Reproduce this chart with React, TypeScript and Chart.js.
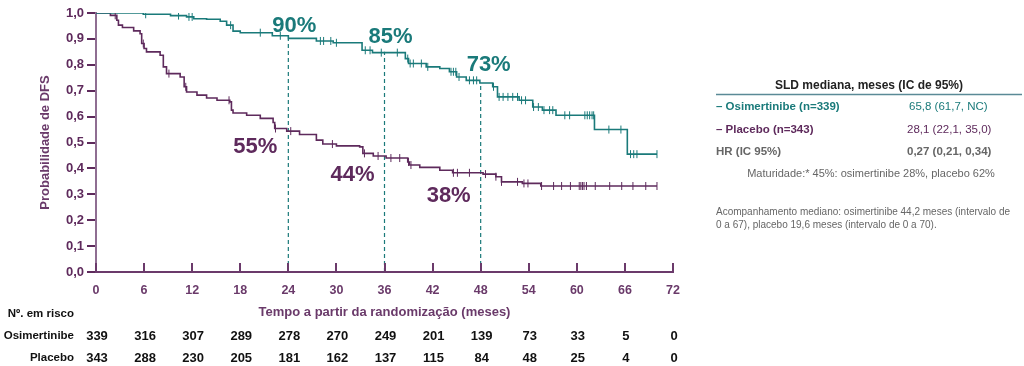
import React, { useEffect, useRef } from 'react';
import { Chart, registerables } from 'chart.js';

Chart.register(...registerables);

// ---------- data ----------
const osiTimes = [0, 5.9, 9.3, 11.3, 12.2, 13.8, 15.5, 16.3, 17.1, 18.0, 22.0, 24.0, 27.5, 29.6, 33.2, 34.5, 38.6, 39.0, 41.2, 42.9, 44.1, 45.0, 46.2, 47.9, 49.5, 50.1, 52.8, 54.5, 55.7, 57.4, 62.2, 66.3, 70];
const osiSurv = [1.0, 0.995, 0.99, 0.985, 0.978, 0.976, 0.968, 0.953, 0.93, 0.924, 0.912, 0.902, 0.892, 0.885, 0.856, 0.847, 0.824, 0.805, 0.792, 0.786, 0.773, 0.753, 0.74, 0.73, 0.715, 0.676, 0.663, 0.637, 0.625, 0.605, 0.55, 0.455, 0.455];

const plTimes = [0, 1.8, 2.6, 2.8, 3.3, 4.7, 5.5, 5.7, 6.0, 6.3, 8.0, 8.4, 8.8, 10.5, 11.0, 11.3, 12.6, 13.8, 15.1, 16.7, 16.9, 17.1, 18.8, 20.5, 22.1, 22.3, 23.8, 25.4, 27.5, 28.3, 30.0, 32.9, 33.3, 34.6, 36.2, 38.9, 39.1, 40.4, 42.9, 44.5, 48.3, 49.9, 50.6, 53.2, 55.5, 70];
const plSurv = [1.0, 0.991, 0.972, 0.953, 0.944, 0.931, 0.92, 0.882, 0.863, 0.85, 0.837, 0.792, 0.766, 0.753, 0.715, 0.695, 0.683, 0.672, 0.663, 0.657, 0.625, 0.614, 0.605, 0.593, 0.577, 0.554, 0.544, 0.531, 0.509, 0.494, 0.487, 0.483, 0.458, 0.448, 0.44, 0.425, 0.413, 0.404, 0.393, 0.383, 0.378, 0.368, 0.348, 0.342, 0.332, 0.332];

const osiCensor = [6.2, 10.3, 11.6, 12.0, 16.8, 20.5, 23.0, 28.0, 28.4, 29.3, 30.0, 33.6, 34.2, 35.6, 37.6, 38.9, 39.2, 39.6, 40.6, 41.4, 44.3, 44.6, 44.9, 45.3, 46.6, 47.1, 47.5, 49.6, 50.3, 50.8, 51.4, 52.0, 52.6, 53.1, 53.6, 54.6, 55.2, 55.9, 56.6, 57.0, 58.5, 59.1, 61.0, 61.3, 61.6, 61.9, 62.1, 64.0, 65.5, 66.7, 67.1, 67.5, 70.0];
const plCensor = [2.4, 5.9, 9.1, 11.2, 16.6, 22.4, 24.3, 29.5, 33.5, 35.2, 36.8, 37.9, 39.0, 39.3, 44.6, 45.1, 46.6, 48.6, 49.9, 50.6, 52.6, 53.4, 53.9, 55.6, 57.1, 58.1, 59.2, 60.3, 60.5, 60.7, 60.9, 61.2, 62.3, 64.1, 65.6, 67.0, 68.6, 70.0];

const landmarkTimes = [24, 36, 48];
const osiLandmarks = [0.90, 0.85, 0.73];
const plLandmarks = [0.55, 0.44, 0.38];
const osiLandmarkLabels = ['90%', '85%', '73%'];
const plLandmarkLabels = ['55%', '44%', '38%'];

const riskTimes = [0, 6, 12, 18, 24, 30, 36, 42, 48, 54, 60, 66, 72];
const osiAtRisk = [339, 316, 307, 289, 278, 270, 249, 201, 139, 73, 33, 5, 0];
const plAtRisk = [343, 288, 230, 205, 181, 162, 137, 115, 84, 48, 25, 4, 0];

const yTicks = [0, 0.1, 0.2, 0.3, 0.4, 0.5, 0.6, 0.7, 0.8, 0.9, 1.0];

// ---------- style ----------
const FONT = '"Liberation Sans", Arial, Helvetica, sans-serif';
const TEAL = '#1a7a7a';
const PURPLE = '#5e2a5c';
const AXIS_X = '#6b3a6b';
const AXIS_Y = '#8f6e92';
const LABEL_PURPLE = '#6a3a6a';
const GREY = '#666666';

function stepAt(times: number[], surv: number[], t: number) {
  let s = surv[0];
  for (let i = 0; i < times.length; i++) {
    if (times[i] <= t) s = surv[i];
    else break;
  }
  return s;
}

const overlayPlugin = {
  id: 'overlay',
  afterDraw(chart: any) {
    const ctx = chart.ctx as CanvasRenderingContext2D;
    const xs = chart.scales.x;
    const ys = chart.scales.y;
    ctx.save();

    // upward x tick marks
    ctx.strokeStyle = AXIS_X;
    ctx.lineWidth = 2;
    riskTimes.forEach((v) => {
      const px = Math.round(xs.getPixelForValue(v));
      ctx.beginPath();
      ctx.moveTo(px, ys.bottom + 1);
      ctx.lineTo(px, ys.bottom - 9);
      ctx.stroke();
    });

    // landmark labels
    ctx.font = `bold 22px ${FONT}`;
    ctx.textAlign = 'center';
    ctx.textBaseline = 'middle';
    const osiOff = [[6, -13], [6, -15], [8, -18]];
    const plOff = [[-33, 17], [-32, 17], [-32, 22]];
    landmarkTimes.forEach((t, i) => {
      ctx.fillStyle = TEAL;
      ctx.fillText(osiLandmarkLabels[i], xs.getPixelForValue(t) + osiOff[i][0], ys.getPixelForValue(osiLandmarks[i]) + osiOff[i][1]);
      ctx.fillStyle = PURPLE;
      ctx.fillText(plLandmarkLabels[i], xs.getPixelForValue(t) + plOff[i][0], ys.getPixelForValue(plLandmarks[i]) + plOff[i][1]);
    });

    // risk table
    ctx.textBaseline = 'middle';
    ctx.fillStyle = '#111111';
    ctx.textAlign = 'right';
    ctx.font = `bold 11.5px ${FONT}`;
    ctx.fillText('Nº. em risco', 74, 314);
    ctx.fillText('Osimertinibe', 74, 336);
    ctx.fillText('Placebo', 74, 358);
    ctx.textAlign = 'center';
    ctx.font = `bold 13px ${FONT}`;
    riskTimes.forEach((t, i) => {
      const px = xs.getPixelForValue(t) + 1;
      ctx.fillText(String(osiAtRisk[i]), px, 336);
      ctx.fillText(String(plAtRisk[i]), px, 358);
    });

    // right panel
    ctx.textAlign = 'center';
    ctx.fillStyle = '#222222';
    ctx.font = `bold 12px ${FONT}`;
    ctx.fillText('SLD mediana, meses (IC de 95%)', 869, 86);
    ctx.strokeStyle = '#5a8a96';
    ctx.lineWidth = 1.5;
    ctx.beginPath();
    ctx.moveTo(716, 94.5);
    ctx.lineTo(1022, 94.5);
    ctx.stroke();

    ctx.textAlign = 'left';
    ctx.font = `bold 11.5px ${FONT}`;
    ctx.fillStyle = TEAL;
    ctx.fillText('– Osimertinibe (n=339)', 716, 107);
    ctx.fillStyle = PURPLE;
    ctx.fillText('– Placebo (n=343)', 716, 130);
    ctx.fillStyle = GREY;
    ctx.fillText('HR (IC 95%)', 716, 152);

    ctx.font = `11.5px ${FONT}`;
    ctx.fillStyle = TEAL;
    ctx.fillText('65,8 (61,7, NC)', 909, 107);
    ctx.fillStyle = PURPLE;
    ctx.fillText('28,1 (22,1, 35,0)', 907, 130);
    ctx.fillStyle = GREY;
    ctx.font = `bold 11.5px ${FONT}`;
    ctx.fillText('0,27 (0,21, 0,34)', 907, 152);

    ctx.font = `11px ${FONT}`;
    ctx.textAlign = 'center';
    ctx.fillText('Maturidade:* 45%: osimertinibe 28%, placebo 62%', 871, 174);
    ctx.textAlign = 'left';
    ctx.font = `10px ${FONT}`;
    ctx.fillText('Acompanhamento mediano: osimertinibe 44,2 meses (intervalo de', 716, 212);
    ctx.fillText('0 a 67), placebo 19,6 meses (intervalo de 0 a 70).', 716, 225);

    ctx.restore();
  },
};

export default function App() {
  const ref = useRef<HTMLCanvasElement>(null);

  useEffect(() => {
    if (!ref.current) return;
    const curve = (times: number[], surv: number[]) => times.map((t, i) => ({ x: t, y: surv[i] }));
    const censor = (c: number[], times: number[], surv: number[]) => c.map((t) => ({ x: t, y: stepAt(times, surv, t) }));

    const dashed = landmarkTimes.map((t, i) => ({
      type: 'line' as const,
      data: [{ x: t, y: 0 }, { x: t, y: osiLandmarks[i] }],
      borderColor: TEAL,
      borderWidth: 1.2,
      borderDash: [4, 3],
      pointRadius: 0,
      order: 5,
    }));

    const chart = new Chart(ref.current, {
      type: 'line',
      data: {
        datasets: [
          {
            data: censor(osiCensor, osiTimes, osiSurv),
            showLine: false,
            pointStyle: 'line',
            rotation: 90,
            pointRadius: 4,
            pointBorderWidth: 1,
            borderColor: TEAL,
            backgroundColor: TEAL,
            order: 1,
          } as any,
          {
            data: censor(plCensor, plTimes, plSurv),
            showLine: false,
            pointStyle: 'line',
            rotation: 90,
            pointRadius: 4,
            pointBorderWidth: 1,
            borderColor: PURPLE,
            backgroundColor: PURPLE,
            order: 1,
          } as any,
          {
            data: curve(osiTimes, osiSurv),
            stepped: 'before',
            borderColor: TEAL,
            borderWidth: 1.6,
            pointRadius: 0,
            order: 2,
          },
          {
            data: curve(plTimes, plSurv),
            stepped: 'before',
            borderColor: PURPLE,
            borderWidth: 1.6,
            pointRadius: 0,
            order: 2,
          },
          ...dashed,
        ],
      },
      options: {
        animation: false,
        responsive: false,
        devicePixelRatio: 1,
        layout: { padding: { left: 34, right: 351, top: 13, bottom: 0 } },
        plugins: { legend: { display: false }, tooltip: { enabled: false } },
        scales: {
          x: {
            type: 'linear',
            min: 0,
            max: 72,
            afterBuildTicks: (s: any) => {
              s.ticks = riskTimes.map((v) => ({ value: v }));
            },
            afterFit: (s: any) => {
              s.height = 94;
            },
            ticks: {
              color: LABEL_PURPLE,
              font: { family: FONT, size: 12.5, weight: 'bold' },
              padding: 11,
              maxRotation: 0,
              autoSkip: false,
            },
            grid: { display: false, drawOnChartArea: false, drawTicks: false },
            border: { display: true, color: AXIS_X, width: 2 },
            title: {
              display: true,
              text: 'Tempo a partir da randomização (meses)',
              color: LABEL_PURPLE,
              font: { family: FONT, size: 13, weight: 'bold' },
              padding: { top: 0, bottom: 45.5 },
            },
          },
          y: {
            type: 'linear',
            min: 0,
            max: 1,
            afterBuildTicks: (s: any) => {
              s.ticks = yTicks.map((v) => ({ value: v }));
            },
            afterFit: (s: any) => {
              s.width = 62;
            },
            ticks: {
              color: PURPLE,
              font: { family: FONT, size: 13, weight: 'bold' },
              padding: 3,
              callback: (v: any) => Number(v).toFixed(1).replace('.', ','),
            },
            grid: { drawOnChartArea: false, drawTicks: true, tickLength: 9, color: PURPLE, lineWidth: 2 },
            border: { display: true, color: AXIS_Y, width: 2 },
            title: {
              display: true,
              text: 'Probabilidade de DFS',
              color: LABEL_PURPLE,
              font: { family: FONT, size: 13, weight: 'bold' },
              padding: { top: 4, bottom: 0 },
            },
          },
        },
      },
      plugins: [overlayPlugin],
    });
    return () => chart.destroy();
  }, []);

  return (
    <div style={{ position: 'fixed', left: 0, top: 0, width: 1024, height: 366, background: '#ffffff' }}>
      <canvas ref={ref} width={1024} height={366} style={{ width: 1024, height: 366, display: 'block' }} />
    </div>
  );
}
